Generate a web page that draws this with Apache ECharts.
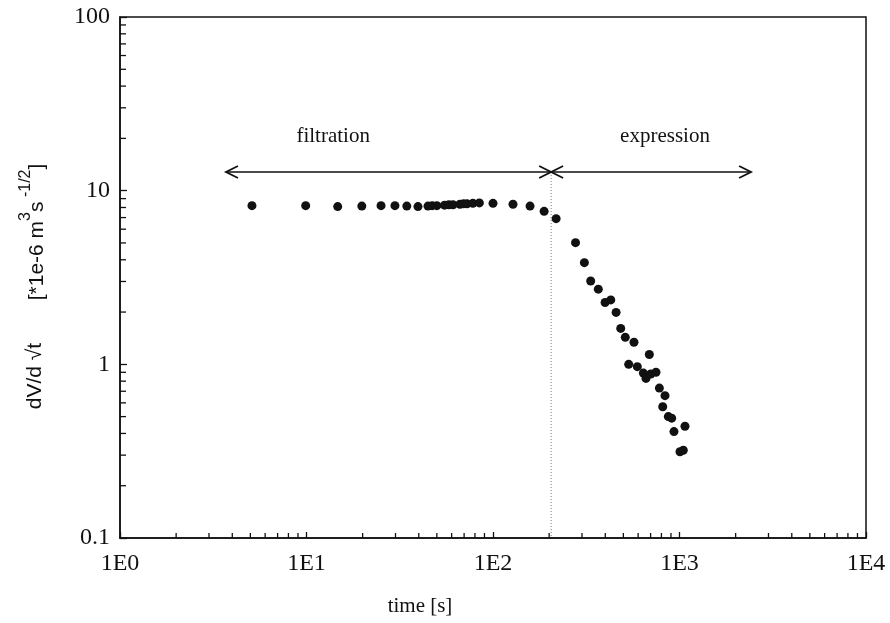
<!DOCTYPE html>
<html>
<head>
<meta charset="utf-8">
<script src="https://cdn.jsdelivr.net/npm/echarts@6/dist/echarts.min.js"></script>
<style>
  html, body { margin: 0; padding: 0; background: #fff; }
  #chart { width: 890px; height: 623px; }
</style>
</head>
<body>
<div id="chart"></div>
<script>
// Filtration phase: time [s] and dV/d sqrt(t)
const filtrationTime = [5.1, 9.9, 14.7, 19.8, 25.1, 29.8, 34.5, 39.6, 44.8, 47.2, 50, 55, 58, 61, 66.5, 69.5, 72.6, 78, 84.5, 100, 128, 158, 188, 218];
const filtrationRate = [8.2, 8.2, 8.1, 8.15, 8.2, 8.2, 8.15, 8.1, 8.15, 8.2, 8.2, 8.25, 8.3, 8.3, 8.35, 8.4, 8.4, 8.45, 8.5, 8.45, 8.35, 8.15, 7.6, 6.9];

// Expression phase
const expressionTime = [277, 309, 334, 367, 399, 428, 457, 484, 512, 534, 570, 594, 640, 661, 689, 701, 748, 780, 813, 836, 871, 908, 934, 1006, 1048, 1070];
const expressionRate = [5.02, 3.85, 3.02, 2.71, 2.27, 2.35, 1.99, 1.61, 1.43, 1.00, 1.34, 0.97, 0.89, 0.83, 1.14, 0.88, 0.90, 0.73, 0.57, 0.66, 0.50, 0.49, 0.41, 0.314, 0.32, 0.44];

// Phase annotations
const phaseBoundary = 205;
const arrowLevel = 12.8;
const filtrationSpan = [3.7, phaseBoundary];
const expressionSpan = [phaseBoundary, 2420];
const phaseNames = ['filtration', 'expression'];
const phaseLabelX = [13.9, 836];
const phaseLabelY = 20.4;

// Axes
const xRange = [1, 10000];
const yRange = [0.1, 100];
const xTickLabels = ['1E0', '1E1', '1E2', '1E3', '1E4'];
const yTickLabels = ['0.1', '1', '10', '100'];
const minorSteps = [2, 3, 4, 5, 6, 7, 8, 9];
const xDecades = [1, 10, 100, 1000];
const yDecades = [0.1, 1, 10];

const serif = '"Liberation Serif", "Times New Roman", serif';
const sans = '"Liberation Sans", Arial, sans-serif';
const ink = '#111';

const xMinor = [];
xDecades.forEach(d => minorSteps.forEach(s => xMinor.push([d * s, yRange[0]])));
const yMinor = [];
yDecades.forEach(d => minorSteps.forEach(s => yMinor.push([xRange[0], d * s])));

function pairs(xs, ys) { return xs.map((x, i) => [x, ys[i]]); }

function tickRender(dir) {
  return function (params, api) {
    const p = api.coord([api.value(0), api.value(1)]);
    const shape = dir === 'x'
      ? { x1: p[0], y1: p[1], x2: p[0], y2: p[1] - 5 }
      : { x1: p[0], y1: p[1], x2: p[0] + 6, y2: p[1] };
    return { type: 'line', shape, style: { stroke: ink, lineWidth: 1.3 } };
  };
}

function arrowRender(params, api) {
  const a = api.coord([api.value(0), api.value(2)]);
  const b = api.coord([api.value(1), api.value(2)]);
  const L = 12, H = 6;
  return {
    type: 'group',
    children: [
      { type: 'line', shape: { x1: a[0], y1: a[1], x2: b[0], y2: b[1] }, style: { stroke: ink, lineWidth: 1.5 } },
      { type: 'polyline', shape: { points: [[a[0] + L, a[1] - H], [a[0], a[1]], [a[0] + L, a[1] + H]] }, style: { stroke: ink, lineWidth: 1.8, fill: null } },
      { type: 'polyline', shape: { points: [[b[0] - L, b[1] - H], [b[0], b[1]], [b[0] - L, b[1] + H]] }, style: { stroke: ink, lineWidth: 1.8, fill: null } }
    ]
  };
}

function labelRender(params, api) {
  const p = api.coord([api.value(0), api.value(1)]);
  return {
    type: 'text', x: p[0], y: p[1],
    style: { text: phaseNames[params.dataIndex], fill: ink, fontFamily: serif, fontSize: 21, align: 'center', verticalAlign: 'middle' }
  };
}

const chart = echarts.init(document.getElementById('chart'), null, { renderer: 'canvas' });

chart.setOption({
  backgroundColor: '#fff',
  animation: false,
  grid: { left: 120, top: 17, right: 24, bottom: 85, show: true, borderColor: ink, borderWidth: 1.5, backgroundColor: 'transparent' },
  xAxis: {
    type: 'log', logBase: 10, min: xRange[0], max: xRange[1],
    axisLine: { lineStyle: { color: ink, width: 1.5 } },
    axisTick: { inside: true, length: 6, lineStyle: { color: ink, width: 1.3 } },
    splitLine: { show: false },
    axisLabel: {
      color: ink, fontFamily: serif, fontSize: 24, margin: 14,
      formatter: v => xTickLabels[Math.round(Math.log10(v))]
    }
  },
  yAxis: {
    type: 'log', logBase: 10, min: yRange[0], max: yRange[1],
    axisLine: { lineStyle: { color: ink, width: 1.5 } },
    axisTick: { inside: true, length: 7, lineStyle: { color: ink, width: 1.3 } },
    splitLine: { show: false },
    axisLabel: {
      color: ink, fontFamily: serif, fontSize: 24, margin: 10,
      formatter: v => yTickLabels[Math.round(Math.log10(v)) + 1]
    }
  },
  graphic: [
    { type: 'text', x: 420, y: 606, style: { text: 'time [s]', fill: ink, fontFamily: serif, fontSize: 21, align: 'center', verticalAlign: 'middle' } },
    { type: 'text', x: 35, y: 376, rotation: Math.PI / 2,
      style: { text: 'dV/d √t', fill: ink, fontFamily: sans, fontSize: 21, align: 'center', verticalAlign: 'middle' } },
    { type: 'text', x: 33, y: 232, rotation: Math.PI / 2,
      style: {
        text: '{n|[*1e-6 m}{s|3}{n|s}{s| -1/2}{n|]}',
        align: 'center', verticalAlign: 'middle',
        rich: {
          n: { fill: ink, fontFamily: sans, fontSize: 21, verticalAlign: 'bottom', lineHeight: 30 },
          s: { fill: ink, fontFamily: sans, fontSize: 16, verticalAlign: 'top', lineHeight: 30 }
        }
      } }
  ],
  series: [
    { type: 'custom', renderItem: tickRender('x'), data: xMinor, silent: true, z: 3 },
    { type: 'custom', renderItem: tickRender('y'), data: yMinor, silent: true, z: 3 },
    {
      type: 'line', data: [[phaseBoundary, arrowLevel], [phaseBoundary, yRange[0]]],
      symbol: 'none', silent: true, lineStyle: { color: '#777', width: 1, type: [1, 2] }, z: 2
    },
    {
      type: 'custom', renderItem: arrowRender, silent: true, z: 4,
      encode: { x: [0, 1], y: 2 },
      data: [[filtrationSpan[0], filtrationSpan[1], arrowLevel], [expressionSpan[0], expressionSpan[1], arrowLevel]]
    },
    {
      type: 'custom', renderItem: labelRender, silent: true, z: 4,
      data: phaseLabelX.map(x => [x, phaseLabelY])
    },
    { type: 'scatter', data: pairs(filtrationTime, filtrationRate), symbolSize: 9, itemStyle: { color: ink, opacity: 1 }, z: 5 },
    { type: 'scatter', data: pairs(expressionTime, expressionRate), symbolSize: 9, itemStyle: { color: ink, opacity: 1 }, z: 5 }
  ]
});
</script>
</body>
</html>
